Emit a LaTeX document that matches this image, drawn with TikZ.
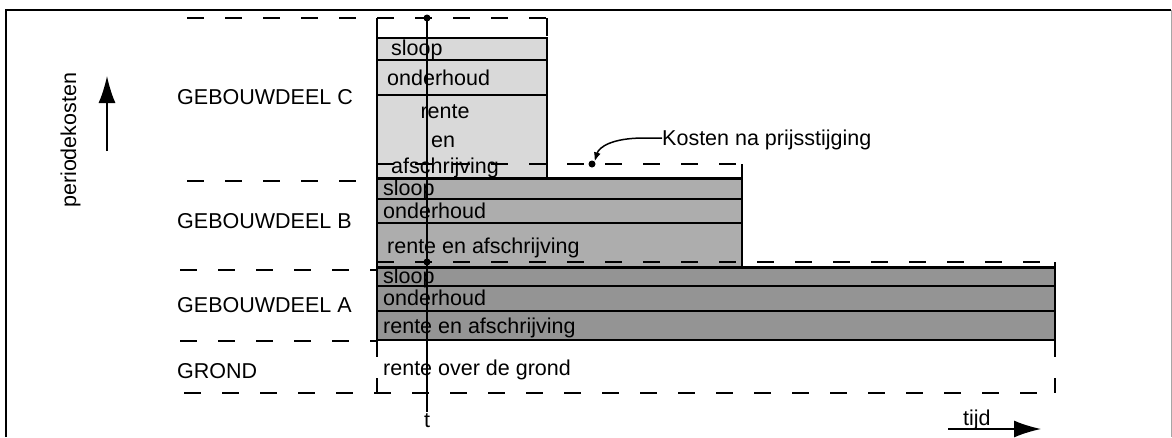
\documentclass[tikz,border=0pt]{standalone}
\usepackage{fontspec}
\setmainfont{Liberation Sans}
\usetikzlibrary{arrows.meta}
\begin{document}
\begin{tikzpicture}[x=1pt,y=-1pt,
  lbl/.style={font=\fontsize{21.5}{25}\selectfont, inner sep=0pt, anchor=base west},
  clbl/.style={font=\fontsize{21.5}{25}\selectfont, inner sep=0pt, anchor=base},
  dsh/.style={line width=2.2pt, dash pattern=on 17pt off 21pt},
  solidl/.style={line width=2.2pt},
  boxC/.style={fill=black!15, draw, line width=2.2pt},
  boxB/.style={fill=black!32, draw, line width=2.2pt},
  boxA/.style={fill=black!42, draw, line width=2.2pt},
  dotm/.style={circle, fill, inner sep=0pt, minimum size=7pt},
  bigarrow/.style={line width=1.6pt, -{Latex[length=27pt,width=17pt]}}
]
\useasboundingbox (0,0) rectangle (1172,437);
\fill[white] (0,0) rectangle (1172,437);
% frame
\draw[line width=1.5pt] (6,437) -- (6,10) -- (1171,10);
\draw[line width=0.6pt, black!35] (1171,10) -- (1171,437);

% boxes C
\draw[boxC] (377,38) rectangle (547,60);
\draw[boxC] (377,60) rectangle (547,95);
\draw[boxC] (377,95) rectangle (547,178);
% boxes B
\draw[boxB] (377,178.5) rectangle (742,199);
\draw[boxB] (377,199) rectangle (742,223);
\draw[boxB] (377,223) rectangle (742,267.5);
% boxes A
\draw[boxA] (377,267.5) rectangle (1055,286);
\draw[boxA] (377,286) rectangle (1055,311);
\draw[boxA] (377,311) rectangle (1055,340);

% left dashed level lines
\draw[dsh] (187,18) -- (547,18);
\draw[solidl] (377,18) -- (377,38);
\draw[solidl] (547,18) -- (547,36);
\draw[dsh] (187,181) -- (377,181);
\draw[dsh] (180,270) -- (377,270);
\draw[dsh] (180,341) -- (377,341);
\draw[dsh] (184,393) -- (1055,393);
% price increase outlines
\draw[dsh] (377,164) -- (742,164);
\draw[solidl] (742,164) -- (742,179);
\draw[dsh] (377,262) -- (1055,262);
\draw[solidl] (1055,262) -- (1055,268);
\draw[dsh] (377,340) -- (377,393);
\draw[dsh] (1055,340) -- (1055,393);

% texts in boxes
\node[lbl] (cs) at (391,55) {sloop};
\node[lbl] (co) at (387,85) {onderhoud};
\node[clbl] (cr1) at (445,118) {rente};
\node[clbl] (cr2) at (443,147) {en};
\node[clbl] (cr3) at (445,173) {afschrijving};
\node[lbl] (bs) at (383,195) {sloop};
\node[lbl] (bo) at (383,218) {onderhoud};
\node[lbl] (br) at (387,253) {rente en afschrijving};
\node[lbl] (as) at (383,283) {sloop};
\node[lbl] (ao) at (383,305) {onderhoud};
\node[lbl] (ar) at (383,333) {rente en afschrijving};
\node[lbl] (gr) at (383,375) {rente over de grond};

% left labels
\node[lbl] (gc) at (177,104) {GEBOUWDEEL C};
\node[lbl] (gb) at (177,228) {GEBOUWDEEL B};
\node[lbl] (ga) at (177,312) {GEBOUWDEEL A};
\node[lbl] (gg) at (177,378) {GROND};

% axis labels
\node[lbl, rotate=90] (pk) at (76,208) {periodekosten};
\coordinate (pa1) at (107,151);
\coordinate (pa2) at (107,76);
\draw[bigarrow] (pa1) -- (pa2);

\node[lbl] (tijd) at (963,425) {tijd};
\coordinate (ta1) at (948,429);
\coordinate (ta2) at (1041,429);
\draw[bigarrow] (ta1) -- (ta2);

% time t
\node[dotm] (d1) at (427,18) {};
\node[dotm] (d2) at (427,262) {};
\node[clbl] (tl) at (427,427) {t};
\coordinate (tend) at (427,412);
\draw[line width=1.5pt] (d1.center) -- (tend);

% Kosten na prijsstijging
\node[lbl] (kos) at (662,145) {Kosten na prijsstijging};
\node[dotm] (d3) at (592,164) {};
\draw[line width=1.5pt, -{Latex[length=9pt,width=7pt]}] (kos.west |- 0,138) -- ++(-18,0) .. controls (612,138) and (599,147) .. (d3.north east);
\end{tikzpicture}
\end{document}
